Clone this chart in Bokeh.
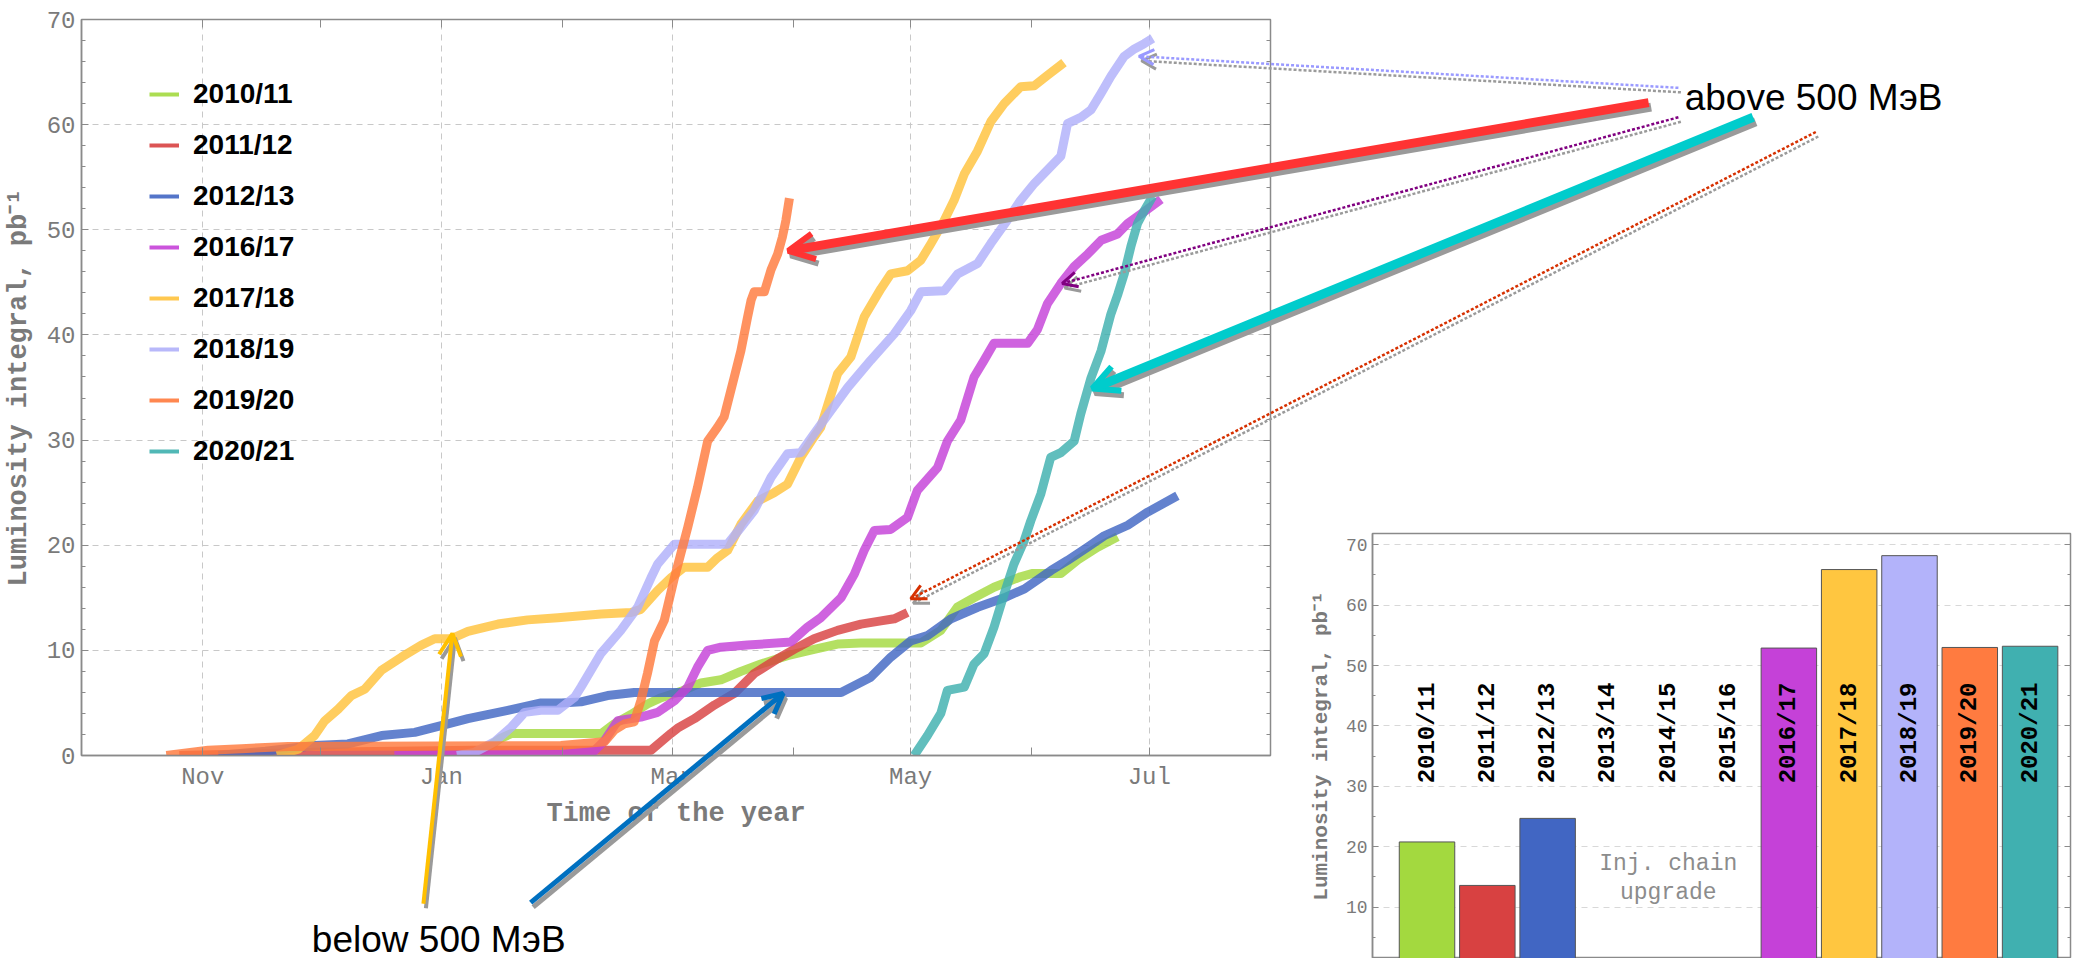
import math

from bokeh.core.properties import value
from bokeh.embed import file_html
from bokeh.models import (Arrow, FixedTicker, GridBox, Label, Legend, LegendItem, LinearAxis,
                          OpenHead, Range1d, SingleIntervalTicker)
from bokeh.plotting import figure
from bokeh.resources import INLINE

# ---------------------------------------------------------------------------
# Integrated luminosity per season; days are counted from 1 October.
# ---------------------------------------------------------------------------
seasons = ["2010/11", "2011/12", "2012/13", "2016/17",
           "2017/18", "2018/19", "2019/20", "2020/21"]
season_colors = ["#a3d93f", "#d84141", "#4166c3", "#c541d8",
                 "#ffc23c", "#b0b0fa", "#ff7a3d", "#3eb0ae"]

days_1011 = [100, 104, 107, 110, 133, 136.2, 140.5, 144.7, 148.2, 153.3, 158.4, 163.5,
             168.6, 173.7, 180.5, 187.3, 193.3, 199.3, 214.6, 219.7, 223.9, 228.2,
             233.3, 240.1, 243.0, 250.4, 254.7, 259.8, 264.9]
lum_1011 = [0, 0.8, 1.6, 2.1, 2.1, 3.0, 3.9, 4.9, 5.5, 6.1, 6.9, 7.2,
            8.0, 8.7, 9.5, 10.1, 10.6, 10.7, 10.7, 11.9, 14.1, 15.0,
            16.0, 17.0, 17.3, 17.3, 18.6, 19.8, 20.8]

days_1112 = [25, 60, 100, 145.6, 150.7, 152.4, 156.7, 161.8, 166.9, 172.0, 178.0,
             182.2, 187.3, 193.3, 199.3, 204.4, 207.8, 211.2]
lum_1112 = [0, 0.3, 0.5, 0.5, 2.1, 2.6, 3.5, 4.8, 5.9, 7.8, 9.2,
            10.1, 11.1, 11.9, 12.5, 12.8, 13.0, 13.6]

days_1213 = [35, 47, 59.6, 68.1, 76.7, 85.2, 93.7, 98.8, 109.0, 117.5, 122.7, 127.7,
             134.5, 141.3, 194.2, 201.8, 206.9, 212.0, 216.3, 222.3, 229.1, 235.9,
             241.1, 247.9, 252.1, 257.2, 261.5, 267.5, 272.6, 280.2]
lum_1213 = [0, 0.4, 0.95, 1.1, 1.9, 2.2, 3.0, 3.5, 4.3, 5.0, 5.0, 5.1,
            5.7, 6.0, 6.0, 7.45, 9.35, 10.9, 11.4, 13.0, 14.1, 15.0,
            15.85, 17.6, 18.55, 19.8, 20.9, 21.9, 23.15, 24.7]

days_1617 = [80, 122.6, 131.0, 133.7, 137.1, 143.0, 147.3, 151.6, 155.0, 157.5, 160.1,
             163.5, 170.3, 181.4, 185.6, 189.0, 194.2, 197.6, 200.1, 202.7, 206.9,
             211.2, 213.7, 218.9, 221.4, 224.8, 228.2, 230.8, 233.3, 241.9, 244.4,
             247.0, 250.4, 253.8, 257.3, 260.7, 264.9, 267.5, 270.9, 276.0]
lum_1617 = [0, 0.2, 0.4, 1.4, 3.3, 3.65, 4.1, 5.2, 6.5, 8.4, 10.0,
            10.3, 10.5, 10.8, 12.2, 13.1, 15.0, 17.25, 19.5, 21.4, 21.5,
            22.65, 25.2, 27.4, 29.9, 31.9, 36.0, 37.6, 39.2, 39.2, 40.5,
            43.0, 44.9, 46.5, 47.7, 49.0, 49.6, 50.6, 51.5, 52.9]

days_1718 = [50, 55.4, 59.6, 62.2, 65.6, 69.0, 72.4, 76.7, 81.8, 86.9, 90.3, 94.5,
             98.8, 106.5, 114.1, 121.8, 132.9, 140.5, 143.0, 147.3, 150.7, 154.1,
             160.1, 162.6, 165.2, 168.6, 172.9, 177.1, 180.5, 183.9, 187.3, 189.0,
             193.3, 196.7, 200.1, 204.4, 206.9, 211.2, 214.6, 217.2, 220.6, 223.1,
             225.7, 229.1, 232.5, 235.9, 240.1, 243.6, 247.0, 251.2]
lum_1718 = [0, 0.6, 1.9, 3.3, 4.4, 5.7, 6.3, 8.1, 9.35, 10.5, 11.1, 11.1,
            11.8, 12.5, 12.9, 13.1, 13.45, 13.6, 13.9, 15.7, 16.9, 17.9,
            17.9, 18.8, 19.5, 22.0, 24.2, 25.0, 25.8, 28.35, 30.3, 31.2,
            36.3, 37.9, 41.7, 44.4, 45.8, 46.1, 47.1, 48.7, 50.9, 52.8,
            55.3, 57.5, 60.3, 62.0, 63.6, 63.7, 64.7, 65.9]

days_1819 = [96, 100.5, 105.6, 109.9, 113.3, 117.5, 121.8, 126.1, 127.7, 132.8, 137.9,
             142.2, 145.6, 147.3, 151.6, 165.2, 168.6, 172.0, 176.3, 180.5, 183.9,
             187.3, 191.6, 195.9, 201.8, 207.8, 212.0, 214.6, 220.6, 224.0, 229.1,
             232.5, 236.7, 240.1, 243.6, 247.8, 250.4, 252.1, 255.5, 258.1, 260.7,
             263.2, 266.6, 269.2, 271.7, 273.9]
lum_1819 = [0, 0.3, 1.3, 2.7, 4.1, 4.3, 4.3, 5.55, 6.5, 9.7, 11.9,
            14.1, 16.9, 18.2, 20.1, 20.1, 21.7, 23.3, 26.45, 28.7, 28.8,
            30.6, 32.8, 35.0, 37.6, 40.1, 42.3, 44.1, 44.2, 45.8, 46.8,
            48.7, 50.9, 52.8, 54.4, 56.0, 57.0, 60.1, 60.7, 61.4, 63.0,
            64.6, 66.5, 67.2, 67.7, 68.2]

days_1920 = [21.7, 32.4, 40.9, 52.8, 122.6, 133.7, 136.2, 138.8, 141.3, 143.0, 144.7,
             146.5, 149.0, 151.6, 155.0, 157.5, 160.1, 162.6, 164.3, 166.9, 168.6,
             170.3, 171.2, 172.0, 174.6, 176.3, 178.0, 179.2, 180.1, 181.0]
lum_1920 = [0, 0.5, 0.65, 0.85, 0.95, 1.3, 2.4, 3.0, 3.2, 5.2, 7.8,
            10.9, 12.85, 16.9, 21.7, 25.5, 29.9, 31.2, 32.2, 36.0, 38.5,
            41.7, 43.3, 44.1, 44.1, 46.2, 47.7, 49.3, 50.9, 53.0]

days_2021 = [212.9, 216.3, 219.7, 221.4, 225.7, 228.2, 230.8, 233.3, 235.9, 238.4,
             241.0, 242.7, 245.3, 247.8, 250.4, 253.8, 255.5, 258.1, 260.7, 263.2,
             265.0, 266.6, 268.3, 270.0, 271.7, 273.9]
lum_2021 = [0, 1.9, 4.0, 6.2, 6.5, 8.7, 9.7, 12.2, 15.35, 18.2,
            20.4, 22.3, 24.9, 28.35, 28.8, 29.9, 32.5, 35.9, 38.5, 42.0,
            43.9, 45.8, 48.4, 50.6, 51.8, 53.2]

season_days = [days_1011, days_1112, days_1213, days_1617,
               days_1718, days_1819, days_1920, days_2021]
season_lums = [lum_1011, lum_1112, lum_1213, lum_1617,
               lum_1718, lum_1819, lum_1920, lum_2021]

# Month starts (days after 1 October) and the months that carry a label
month_ticks = [31, 61, 92, 123, 151, 182, 212, 243, 273]
month_names = {31: "Nov", 92: "Jan", 151: "Mar", 212: "May", 273: "Jul"}

# Season totals for the summary bar chart (no runs from 2013 to 2016)
bar_seasons = ["2010/11", "2011/12", "2012/13", "2013/14", "2014/15", "2015/16",
               "2016/17", "2017/18", "2018/19", "2019/20", "2020/21"]
bar_totals = [20.8, 13.6, 24.7, None, None, None, 52.9, 65.9, 68.2, 53.0, 53.2]
bar_colors = ["#a3d93f", "#d84141", "#4166c3", None, None, None,
              "#c541d8", "#ffc640", "#b3b3fa", "#ff7b40", "#40b0b0"]

# Annotation arrows: (x_tail, y_tail, x_tip, y_tip) in days / pb^-1
arrow_high_2019 = (400.6, 62.1, 180.8, 48.0)
arrow_high_2020 = (427.3, 60.7, 258.5, 34.9)
arrow_high_2018 = (408.2, 63.5, 270.4, 66.5)
arrow_high_2016 = (408.2, 60.7, 250.8, 44.9)
arrow_high_2011 = (443.3, 59.3, 212.1, 14.9)
arrow_low_2017 = (87.6, -14.1, 95.0, 11.6)
arrow_low_2012 = (115.0, -14.0, 179.5, 5.9)

MONO = "Liberation Mono"
SANS = "Liberation Sans"
AXIS_GREY = "#8a8a8a"
TEXT_GREY = "#7a7a7a"

X0, X1 = 0, 304
Y0, Y1 = 0, 70
FRAME_L, FRAME_R, FRAME_T, FRAME_B = 80, 1270, 19, 755
W, H = 2079, 958
IN_W, IN_H = 779, 438

p = figure(width=W, height=H, x_range=Range1d(X0, X1), y_range=Range1d(Y0, Y1),
           output_backend="svg", toolbar_location=None, frame_align=False,
           min_border_left=FRAME_L, min_border_right=W - FRAME_R,
           min_border_top=FRAME_T, min_border_bottom=H - FRAME_B)
p.background_fill_color = "white"
p.border_fill_color = "white"
p.outline_line_color = AXIS_GREY
p.outline_line_width = 1.5

# bottom axis: month ticks, every other month labelled
xa = p.xaxis[0]
xa.ticker = FixedTicker(ticks=month_ticks)
xa.major_label_overrides = {t: month_names.get(t, "") for t in month_ticks}
xa.major_tick_in = 8
xa.major_tick_out = 0
xa.minor_tick_in = 0
xa.minor_tick_out = 0
xa.axis_line_color = AXIS_GREY
xa.axis_line_width = 1.5
xa.major_tick_line_color = AXIS_GREY
xa.major_label_text_font = MONO
xa.major_label_text_font_size = "24px"
xa.major_label_text_color = TEXT_GREY
xa.major_label_standoff = 8
xa.axis_label = "Time of the year"
xa.axis_label_text_font = MONO
xa.axis_label_text_font_style = "bold"
xa.axis_label_text_font_size = "27px"
xa.axis_label_text_color = TEXT_GREY
xa.axis_label_standoff = 5

ya = p.yaxis[0]
ya.ticker = SingleIntervalTicker(interval=10, num_minor_ticks=5)
ya.major_tick_in = 7
ya.major_tick_out = 0
ya.minor_tick_in = 4
ya.minor_tick_out = 0
ya.axis_line_color = AXIS_GREY
ya.axis_line_width = 1.5
ya.major_tick_line_color = AXIS_GREY
ya.minor_tick_line_color = AXIS_GREY
ya.major_label_text_font = MONO
ya.major_label_text_font_size = "24px"
ya.major_label_text_color = TEXT_GREY
ya.major_label_standoff = 6
ya.axis_label = "Luminosity integral, pb\u207b\u00b9"
ya.axis_label_text_font = MONO
ya.axis_label_text_font_style = "bold"
ya.axis_label_text_font_size = "27px"
ya.axis_label_text_color = TEXT_GREY
ya.axis_label_standoff = 10

# mirrored ticks on the top and right edges of the frame
top_axis = LinearAxis(ticker=FixedTicker(ticks=month_ticks), major_tick_in=8, major_tick_out=0,
                      minor_tick_in=0, minor_tick_out=0, axis_line_color=None,
                      major_tick_line_color=AXIS_GREY, major_label_text_font_size="1px",
                      major_label_text_color=None, major_label_standoff=0)
p.add_layout(top_axis, "above")
right_axis = LinearAxis(ticker=SingleIntervalTicker(interval=10, num_minor_ticks=5),
                        major_tick_in=7, major_tick_out=0, minor_tick_in=4, minor_tick_out=0,
                        axis_line_color=None, major_tick_line_color=AXIS_GREY,
                        minor_tick_line_color=AXIS_GREY, major_label_text_font_size="1px",
                        major_label_text_color=None, major_label_standoff=0)
p.add_layout(right_axis, "right")

p.xgrid.ticker = FixedTicker(ticks=list(month_names.keys()))
p.xgrid.grid_line_color = "#c8c8c8"
p.xgrid.grid_line_dash = "6 5"
p.ygrid.ticker = FixedTicker(ticks=[10, 20, 30, 40, 50, 60])
p.ygrid.grid_line_color = "#c8c8c8"
p.ygrid.grid_line_dash = "6 5"

# season curves
for d, l, c in zip(season_days, season_lums, season_colors):
    p.line(x=d, y=l, line_color=c, line_width=9, line_alpha=0.82, line_join="round")

# legend: thin sample lines (one-point proxies that draw nothing in the frame)
items = []
for name, d, l, c in zip(seasons, season_days, season_lums, season_colors):
    r = p.line(x=d[:1], y=l[:1], line_color=c, line_width=4, line_alpha=0.9)
    items.append(LegendItem(label=name, renderers=[r]))
legend = Legend(items=items, location=(68, 288), padding=0, margin=0, spacing=19,
                glyph_height=32, glyph_width=30, label_height=32, label_standoff=14,
                label_text_font=SANS, label_text_font_style="bold",
                label_text_font_size="28px", label_text_color="black",
                border_line_color=None, background_fill_alpha=0)
p.add_layout(legend)

# ---------------------------------------------------------------------------
# Transparent overlay sharing the main chart's day / pb^-1 scale over the
# whole page, so that the call-out arrows can leave the frame.
# ---------------------------------------------------------------------------
px_per_day = (FRAME_R - FRAME_L) / (X1 - X0)
px_per_unit = (FRAME_B - FRAME_T) / (Y1 - Y0)
o = figure(width=W, height=H,
           x_range=Range1d(X0 - FRAME_L / px_per_day, X0 + (W - FRAME_L) / px_per_day),
           y_range=Range1d(Y0 - (H - FRAME_B) / px_per_unit, Y1 + FRAME_T / px_per_unit),
           output_backend="svg", toolbar_location=None, frame_align=False,
           x_axis_location=None, y_axis_location=None,
           min_border=0, min_border_left=0, min_border_right=0,
           min_border_top=0, min_border_bottom=0)
o.grid.visible = False
o.outline_line_color = None
o.background_fill_alpha = 0
o.border_fill_alpha = 0

shadow_dx = 2.5 / px_per_day
shadow_dy = -4.5 / px_per_unit


def shadowed_arrow(spec, color, width, head, head_width, dash="solid"):
    x0, y0, x1, y1 = spec
    for col, dx, dy in (("#9a9a9a", shadow_dx, shadow_dy), (color, 0.0, 0.0)):
        o.add_layout(Arrow(x_start=x0 + dx, y_start=y0 + dy, x_end=x1 + dx, y_end=y1 + dy,
                           line_color=col, line_width=width, line_dash=dash,
                           end=OpenHead(size=head, line_color=col, line_width=head_width)))


shadowed_arrow(arrow_high_2018, "#9a9aff", 2.5, 15, 3, "3 2")
shadowed_arrow(arrow_high_2016, "#800080", 2.5, 15, 3, "3 2")
shadowed_arrow(arrow_high_2011, "#d63000", 2.5, 15, 3, "3 2")
shadowed_arrow(arrow_high_2019, "#ff3333", 9, 26, 6)
shadowed_arrow(arrow_high_2020, "#00cccc", 9, 26, 6)
shadowed_arrow(arrow_low_2017, "#ffc000", 4, 22, 4)
shadowed_arrow(arrow_low_2012, "#0070c0", 5, 20, 5)

o.add_layout(Label(x=409.8, y=62.6, text="above 500 МэВ", text_font=SANS,
                   text_font_size="37px", text_color="black", text_baseline="alphabetic"))
o.add_layout(Label(x=59.1, y=-17.5, text="below 500 МэВ", text_font=SANS,
                   text_font_size="37px", text_color="black", text_baseline="alphabetic"))

# ---------------------------------------------------------------------------
# Season totals
# ---------------------------------------------------------------------------
bar_idx = [i for i, v in enumerate(bar_totals) if v is not None]
q = figure(width=IN_W, height=IN_H, x_range=Range1d(-0.904, 10.67), y_range=Range1d(1.5, 71.87),
           output_backend="svg", toolbar_location=None, x_axis_location=None, frame_align=False,
           min_border_left=72, min_border_right=9, min_border_top=13, min_border_bottom=0)
q.background_fill_color = "white"
q.border_fill_color = "white"
q.outline_line_color = AXIS_GREY
q.outline_line_width = 1.5
q.xgrid.visible = False
q.ygrid.ticker = FixedTicker(ticks=[10, 20, 30, 40, 50, 60, 70])
q.ygrid.grid_line_color = "#d8d8d8"
q.ygrid.grid_line_dash = "6 5"

qa = q.yaxis[0]
qa.ticker = SingleIntervalTicker(interval=10, num_minor_ticks=2)
qa.major_tick_in = 6
qa.major_tick_out = 0
qa.minor_tick_in = 3
qa.minor_tick_out = 0
qa.axis_line_color = AXIS_GREY
qa.axis_line_width = 1.5
qa.major_tick_line_color = AXIS_GREY
qa.minor_tick_line_color = AXIS_GREY
qa.major_label_text_font = MONO
qa.major_label_text_font_size = "18px"
qa.major_label_text_color = TEXT_GREY
qa.major_label_standoff = 5
qa.axis_label = "Luminosity integral, pb\u207b\u00b9"
qa.axis_label_text_font = MONO
qa.axis_label_text_font_style = "bold"
qa.axis_label_text_font_size = "21px"
qa.axis_label_text_color = TEXT_GREY
qa.axis_label_standoff = 10
q.add_layout(LinearAxis(ticker=SingleIntervalTicker(interval=10, num_minor_ticks=2),
                        major_tick_in=6, major_tick_out=0, minor_tick_in=3, minor_tick_out=0,
                        axis_line_color=None, major_tick_line_color=AXIS_GREY,
                        minor_tick_line_color=AXIS_GREY, major_label_text_font_size="1px",
                        major_label_text_color=None, major_label_standoff=0), "right")

q.vbar(x=bar_idx, top=[bar_totals[i] for i in bar_idx], bottom=0, width=0.92,
       fill_color=[bar_colors[i] for i in bar_idx], line_color="#555555", line_width=1)
q.text(x=list(range(len(bar_seasons))), y=30.5, text=bar_seasons, angle=math.pi / 2,
       text_align="left", text_baseline="middle", text_font=value(MONO),
       text_font_style="bold", text_font_size="24px", text_color="black")
q.text(x=[4, 4], y=[17.2, 12.3], text=["Inj. chain", "upgrade"], text_align="center",
       text_baseline="middle", text_font=value(MONO), text_font_size="23px",
       text_color="#8c8c8c")

# main chart across the page, season totals in the lower-right cell, overlay on top
page = GridBox(children=[(p, 0, 0, 2, 2), (q, 1, 1), (o, 0, 0, 2, 2)],
               rows=[f"{H - IN_H}px", f"{IN_H}px"], cols=[f"{W - IN_W}px", f"{IN_W}px"],
               spacing=0)
open("out.html", "w").write(file_html(page, INLINE))
